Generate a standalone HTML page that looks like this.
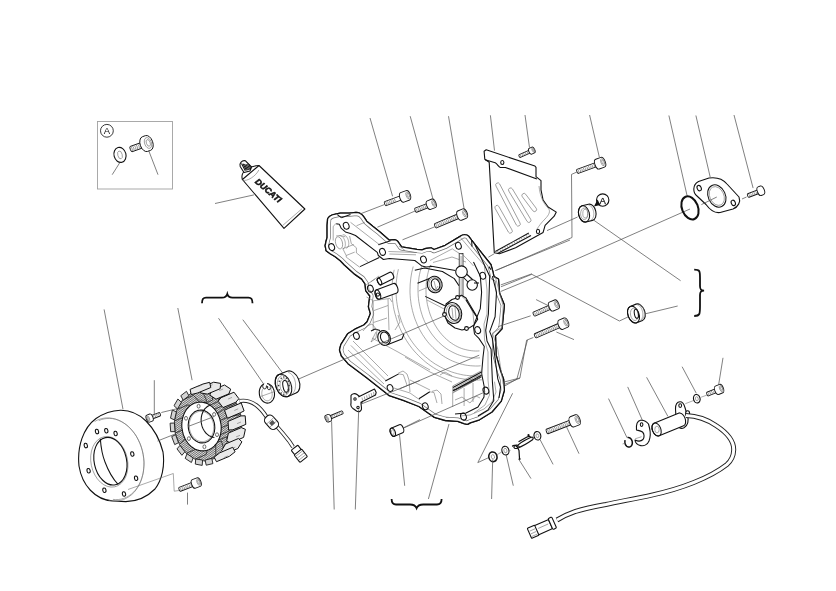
<!DOCTYPE html>
<html><head><meta charset="utf-8"><style>
html,body{margin:0;padding:0;background:#fff;}
svg{display:block;filter:grayscale(1);}
.l{stroke:#555;stroke-width:0.75;fill:none;}
.o{stroke:#111;stroke-width:1.1;fill:#fff;stroke-linejoin:round;}
.ob{stroke:#151515;stroke-width:0.9;fill:#fff;stroke-linejoin:round;}
.on{stroke:#111;stroke-width:1.05;fill:none;stroke-linejoin:round;}
.t{stroke:#707070;stroke-width:0.6;fill:none;}
.th{stroke:#666;stroke-width:0.6;fill:none;}
.bk{stroke:#111;stroke-width:1.8;fill:none;}
.hat{stroke:#222;stroke-width:0.8;fill:url(#hp);stroke-linejoin:round;}
.shoe{stroke:#111;stroke-width:1;fill:#e9e9e9;stroke-linejoin:round;}
.shoe2{stroke:#1a1a1a;stroke-width:0.9;fill:#d4d4d4;stroke-linejoin:round;}
.tip{stroke:#222;stroke-width:0.8;fill:#e6e6e6;stroke-linejoin:round;}
.hole{stroke:#333;stroke-width:0.7;fill:#fff;}
.wire{stroke:#222;stroke-width:4.0;fill:none;}
.wirei{stroke:#fff;stroke-width:2.3;fill:none;}
.o2{stroke:#222;stroke-width:1;fill:none;}
.cab{stroke:#222;stroke-width:5.0;fill:none;}
.cabi{stroke:#fff;stroke-width:3.1;fill:none;}
.ring{stroke:#111;stroke-width:1.5;fill:none;}
.clip{stroke:#111;stroke-width:1.2;fill:none;stroke-linecap:round;stroke-linejoin:round;}
.ring2{stroke:#111;stroke-width:1.1;fill:none;}
.tx{opacity:0.99;font-family:"Liberation Sans",sans-serif;fill:#111;}
</style></head><body>
<svg width="836" height="591" viewBox="0 0 836 591">
<defs><pattern id="hp" width="1.6" height="1.6" patternUnits="userSpaceOnUse" patternTransform="rotate(35)"><rect width="1.6" height="1.6" fill="#f4f4f4"/><line x1="0" y1="0.5" x2="1.6" y2="0.5" stroke="#444" stroke-width="0.7"/></pattern></defs>
<line class="l" x1="370.0" y1="118.0" x2="392.6" y2="196.3"/>
<line class="l" x1="410.2" y1="116.2" x2="433.0" y2="199.1"/>
<line class="l" x1="448.5" y1="116.2" x2="464.1" y2="208.7"/>
<line class="l" x1="490.4" y1="115.3" x2="494.5" y2="150.6"/>
<line class="l" x1="525.0" y1="115.0" x2="529.5" y2="147.6"/>
<line class="l" x1="589.6" y1="115.0" x2="599.3" y2="157.0"/>
<line class="l" x1="668.9" y1="115.5" x2="687.1" y2="195.8"/>
<line class="l" x1="695.9" y1="115.5" x2="710.2" y2="177.1"/>
<line class="l" x1="734.0" y1="115.0" x2="753.1" y2="188.1"/>
<rect x="97.5" y="121.5" width="75" height="67.5" fill="none" stroke="#a0a0a0" stroke-width="0.9"/>
<circle cx="106.9" cy="130.8" r="6.4" fill="none" stroke="#222" stroke-width="0.9"/>
<text x="106.9" y="134.3" font-size="9.5" text-anchor="middle" class="tx">A</text>
<g transform="translate(120.0,154.9) rotate(-15)"><ellipse class="o" cx="0" cy="0" rx="6.0" ry="7.6"/><ellipse class="t" cx="0" cy="0" rx="2.2" ry="4"/></g>
<g transform="translate(148.0,143.0) rotate(-19.9)"><path class="ob" d="M-18.0,-2.8 L-3.2,-2.8 L-3.2,2.8 L-18.0,2.8 Q-18.8,2.8 -18.8,0 Q-18.8,-2.8 -18.0,-2.8 Z"/><path class="th" d="M-17.4,-2.3 Q-16.3,0 -17.4,2.3"/><path class="th" d="M-15.6,-2.3 Q-14.5,0 -15.6,2.3"/><path class="th" d="M-13.7,-2.3 Q-12.6,0 -13.7,2.3"/><path class="th" d="M-11.9,-2.3 Q-10.8,0 -11.9,2.3"/><path class="th" d="M-10.0,-2.3 Q-8.9,0 -10.0,2.3"/><path class="th" d="M-8.2,-2.3 Q-7.1,0 -8.2,2.3"/><path class="th" d="M-6.3,-2.3 Q-5.2,0 -6.3,2.3"/><path class="th" d="M-4.5,-2.3 Q-3.4,0 -4.5,2.3"/><path class="ob" d="M-3.2,-7.8 L0,-7.8 A4.8,7.8 0 0 1 0,7.8 L-3.2,7.8 A4.8,7.8 0 0 1 -3.2,-7.8 Z"/><ellipse class="t" cx="0" cy="0" rx="3.4" ry="5.6"/><ellipse class="t" cx="0.3" cy="0" rx="1.9" ry="3.5"/></g>
<line class="l" x1="119.7" y1="162.8" x2="112.2" y2="174.7"/>
<line class="l" x1="148.7" y1="150.6" x2="158.0" y2="174.7"/>
<g>
<path class="o" d="M242.4,179.5 L284,228.4 L304.9,209 L259,165.5 Z"/>
<path class="t" d="M282.6,225.5 L302,208.7"/>
<path class="on" d="M242.4,179.5 C240,172 248,166 259,165.5"/>
<path class="t" d="M242.4,180 C247,182 256,176 258.8,170"/>
<path class="o" d="M244,172.5 L240.2,166.5 C239,163 242,160 245.5,160.8 L251.5,167 L250,171 Z"/>
<line class="on" x1="241.5" y1="163.5" x2="245.3" y2="170.8"/>
<line class="on" x1="243.0" y1="163.7" x2="246.4" y2="170.5"/>
<line class="on" x1="244.5" y1="163.9" x2="247.5" y2="170.2"/>
<line class="on" x1="246.0" y1="164.1" x2="248.6" y2="169.9"/>
<line class="on" x1="247.5" y1="164.3" x2="249.7" y2="169.6"/>
<line class="on" x1="249.0" y1="164.5" x2="250.8" y2="169.3"/>
<text class="tx" font-size="8.4" font-weight="bold" font-style="italic" stroke="#111" stroke-width="0.55" transform="translate(254.6,182.4) rotate(41)" letter-spacing="0.1">DUCATI</text>
</g>
<line class="l" x1="215.0" y1="203.5" x2="253.9" y2="194.9"/>
<path d="M327.6,218.7 C329,216 332,214.6 335.2,214.1 L340.3,213.1 L349.4,213.1 L356,212.3 C359,212.3 362,214 363.7,216.7 L366.7,221.2 L372.8,226.3 L380,231.9 L389.4,240.2 L394.5,239.7 C396,240 397,240.5 397.6,241.2 L401.6,246.8 L404.7,247.3 L416.9,249.4 L421.9,249.9 L426,248.4 L431.1,247.8 L434,249.5 L445.2,245.3 L460.5,236.1 C462,235 463.5,234.6 464.5,234.6 C466.5,234.6 467.8,235.2 468.6,236.1 L471.6,240.2 L474.7,244.2 L490.9,264.5 L492.9,271.7 L494,276.7 L498.5,279 L499.6,293.2 L504.4,305 L502,328.8 L495.5,335.9 L496.1,354.9 L500.8,371.5 L503.6,379.3 L504.4,390.2 L501.3,401.1 L492,412 L479.5,419.8 L470.2,422.9 C468.5,424 467.5,424.4 467.1,424.4 L464,423.7 L457.8,421.3 L445.3,420.5 L434.4,417.4 L426.7,412 L418.9,406.5 L403.3,400.3 L389.3,395.7 L384.7,392 L367,378 L348,363.7 L341.4,356 L339.5,350 L340.8,344.7 L347.6,333.8 L354.9,329.2 L363.8,325 L367.1,321.7 L370.4,313.6 L368.4,306.8 L369.8,296 L365.7,290.6 L365,283.8 L361.7,279.1 L354.9,274.4 L344.4,265 L340.3,260.8 L335.2,256.8 L330.2,253.7 L326.1,250.7 L325.1,245.6 L326.1,241 L327.1,237.5 L327.1,225.3 Z" fill="#fff" stroke="#111" stroke-width="1.3" stroke-linejoin="round"/>
<clipPath id="cvclip"><path d="M327.6,218.7 C329,216 332,214.6 335.2,214.1 L340.3,213.1 L349.4,213.1 L356,212.3 C359,212.3 362,214 363.7,216.7 L366.7,221.2 L372.8,226.3 L380,231.9 L389.4,240.2 L394.5,239.7 C396,240 397,240.5 397.6,241.2 L401.6,246.8 L404.7,247.3 L416.9,249.4 L421.9,249.9 L426,248.4 L431.1,247.8 L434,249.5 L445.2,245.3 L460.5,236.1 C462,235 463.5,234.6 464.5,234.6 C466.5,234.6 467.8,235.2 468.6,236.1 L471.6,240.2 L474.7,244.2 L490.9,264.5 L492.9,271.7 L494,276.7 L498.5,279 L499.6,293.2 L504.4,305 L502,328.8 L495.5,335.9 L496.1,354.9 L500.8,371.5 L503.6,379.3 L504.4,390.2 L501.3,401.1 L492,412 L479.5,419.8 L470.2,422.9 C468.5,424 467.5,424.4 467.1,424.4 L464,423.7 L457.8,421.3 L445.3,420.5 L434.4,417.4 L426.7,412 L418.9,406.5 L403.3,400.3 L389.3,395.7 L384.7,392 L367,378 L348,363.7 L341.4,356 L339.5,350 L340.8,344.7 L347.6,333.8 L354.9,329.2 L363.8,325 L367.1,321.7 L370.4,313.6 L368.4,306.8 L369.8,296 L365.7,290.6 L365,283.8 L361.7,279.1 L354.9,274.4 L344.4,265 L340.3,260.8 L335.2,256.8 L330.2,253.7 L326.1,250.7 L325.1,245.6 L326.1,241 L327.1,237.5 L327.1,225.3 Z"/></clipPath>
<g clip-path="url(#cvclip)"><path d="M327.6,218.7 C329,216 332,214.6 335.2,214.1 L340.3,213.1 L349.4,213.1 L356,212.3 C359,212.3 362,214 363.7,216.7 L366.7,221.2 L372.8,226.3 L380,231.9 L389.4,240.2 L394.5,239.7 C396,240 397,240.5 397.6,241.2 L401.6,246.8 L404.7,247.3 L416.9,249.4 L421.9,249.9 L426,248.4 L431.1,247.8 L434,249.5 L445.2,245.3 L460.5,236.1 C462,235 463.5,234.6 464.5,234.6 C466.5,234.6 467.8,235.2 468.6,236.1 L471.6,240.2 L474.7,244.2 L490.9,264.5 L492.9,271.7 L494,276.7 L498.5,279 L499.6,293.2 L504.4,305 L502,328.8 L495.5,335.9 L496.1,354.9 L500.8,371.5 L503.6,379.3 L504.4,390.2 L501.3,401.1 L492,412 L479.5,419.8 L470.2,422.9 C468.5,424 467.5,424.4 467.1,424.4 L464,423.7 L457.8,421.3 L445.3,420.5 L434.4,417.4 L426.7,412 L418.9,406.5 L403.3,400.3 L389.3,395.7 L384.7,392 L367,378 L348,363.7 L341.4,356 L339.5,350 L340.8,344.7 L347.6,333.8 L354.9,329.2 L363.8,325 L367.1,321.7 L370.4,313.6 L368.4,306.8 L369.8,296 L365.7,290.6 L365,283.8 L361.7,279.1 L354.9,274.4 L344.4,265 L340.3,260.8 L335.2,256.8 L330.2,253.7 L326.1,250.7 L325.1,245.6 L326.1,241 L327.1,237.5 L327.1,225.3 Z" fill="none" stroke="#707070" stroke-width="7.4" stroke-linejoin="round"/><path d="M327.6,218.7 C329,216 332,214.6 335.2,214.1 L340.3,213.1 L349.4,213.1 L356,212.3 C359,212.3 362,214 363.7,216.7 L366.7,221.2 L372.8,226.3 L380,231.9 L389.4,240.2 L394.5,239.7 C396,240 397,240.5 397.6,241.2 L401.6,246.8 L404.7,247.3 L416.9,249.4 L421.9,249.9 L426,248.4 L431.1,247.8 L434,249.5 L445.2,245.3 L460.5,236.1 C462,235 463.5,234.6 464.5,234.6 C466.5,234.6 467.8,235.2 468.6,236.1 L471.6,240.2 L474.7,244.2 L490.9,264.5 L492.9,271.7 L494,276.7 L498.5,279 L499.6,293.2 L504.4,305 L502,328.8 L495.5,335.9 L496.1,354.9 L500.8,371.5 L503.6,379.3 L504.4,390.2 L501.3,401.1 L492,412 L479.5,419.8 L470.2,422.9 C468.5,424 467.5,424.4 467.1,424.4 L464,423.7 L457.8,421.3 L445.3,420.5 L434.4,417.4 L426.7,412 L418.9,406.5 L403.3,400.3 L389.3,395.7 L384.7,392 L367,378 L348,363.7 L341.4,356 L339.5,350 L340.8,344.7 L347.6,333.8 L354.9,329.2 L363.8,325 L367.1,321.7 L370.4,313.6 L368.4,306.8 L369.8,296 L365.7,290.6 L365,283.8 L361.7,279.1 L354.9,274.4 L344.4,265 L340.3,260.8 L335.2,256.8 L330.2,253.7 L326.1,250.7 L325.1,245.6 L326.1,241 L327.1,237.5 L327.1,225.3 Z" fill="none" stroke="#fff" stroke-width="6.0" stroke-linejoin="round"/></g>
<path d="M327.6,218.7 C329,216 332,214.6 335.2,214.1 L340.3,213.1 L349.4,213.1 L356,212.3 C359,212.3 362,214 363.7,216.7 L366.7,221.2 L372.8,226.3 L380,231.9 L389.4,240.2 L394.5,239.7 C396,240 397,240.5 397.6,241.2 L401.6,246.8 L404.7,247.3 L416.9,249.4 L421.9,249.9 L426,248.4 L431.1,247.8 L434,249.5 L445.2,245.3 L460.5,236.1 C462,235 463.5,234.6 464.5,234.6 C466.5,234.6 467.8,235.2 468.6,236.1 L471.6,240.2 L474.7,244.2 L490.9,264.5 L492.9,271.7 L494,276.7 L498.5,279 L499.6,293.2 L504.4,305 L502,328.8 L495.5,335.9 L496.1,354.9 L500.8,371.5 L503.6,379.3 L504.4,390.2 L501.3,401.1 L492,412 L479.5,419.8 L470.2,422.9 C468.5,424 467.5,424.4 467.1,424.4 L464,423.7 L457.8,421.3 L445.3,420.5 L434.4,417.4 L426.7,412 L418.9,406.5 L403.3,400.3 L389.3,395.7 L384.7,392 L367,378 L348,363.7 L341.4,356 L339.5,350 L340.8,344.7 L347.6,333.8 L354.9,329.2 L363.8,325 L367.1,321.7 L370.4,313.6 L368.4,306.8 L369.8,296 L365.7,290.6 L365,283.8 L361.7,279.1 L354.9,274.4 L344.4,265 L340.3,260.8 L335.2,256.8 L330.2,253.7 L326.1,250.7 L325.1,245.6 L326.1,241 L327.1,237.5 L327.1,225.3 Z" fill="none" stroke="#111" stroke-width="1.3" stroke-linejoin="round"/>
<polyline class="t" points="481.9,379.8 478.7,380.0 475.6,380.0 472.5,379.9 469.3,379.7 466.2,379.4 463.1,378.9 460.0,378.4 456.9,377.7 453.9,376.8 450.9,375.9 447.9,374.8 445.0,373.6 442.1,372.3 439.2,370.9 436.4,369.4 433.7,367.8 431.0,366.0 428.4,364.2 425.8,362.2 423.4,360.1 421.0,358.0 418.6,355.7 416.4,353.4 414.2,351.0 412.1,348.5 410.1,345.9 408.2,343.2 406.4,340.4 404.7,337.6 403.1,334.7 401.6,331.8 400.2,328.8 398.9,325.7 397.7,322.6 396.6,319.4 395.7,316.3 394.8,313.0 394.0,309.8 393.4,306.5 392.9,303.1 392.5,299.8 392.2,296.5 392.1,293.1 392.0,289.7 392.1,286.4 392.3,283.0 392.6,279.7 393.0,276.4 393.5,273.0 394.2,269.8"/>
<polyline class="t" points="481.6,375.8 478.6,376.0 475.6,376.0 472.5,375.9 469.5,375.7 466.5,375.4 463.5,375.0 460.6,374.4 457.6,373.7 454.7,372.9 451.8,372.0 449.0,370.9 446.1,369.8 443.4,368.5 440.6,367.1 438.0,365.6 435.3,364.1 432.8,362.4 430.3,360.6 427.8,358.6 425.4,356.6 423.1,354.5 420.9,352.4 418.8,350.1 416.7,347.7 414.7,345.3 412.8,342.8 411.0,340.2 409.3,337.5 407.7,334.8 406.2,332.0 404.7,329.1 403.4,326.2 402.2,323.2 401.1,320.2 400.1,317.1 399.2,314.1 398.4,310.9 397.7,307.8 397.2,304.6 396.7,301.4 396.4,298.2 396.1,294.9 396.0,291.7 396.0,288.4 396.1,285.2 396.3,282.0 396.7,278.7 397.1,275.5 397.7,272.4 398.4,269.2"/>
<polyline class="t" points="480.6,365.8 478.0,366.0 475.4,366.0 472.9,365.9 470.3,365.7 467.7,365.4 465.2,365.0 462.6,364.4 460.1,363.8 457.6,363.0 455.2,362.1 452.7,361.1 450.3,360.0 448.0,358.8 445.7,357.5 443.4,356.1 441.2,354.6 439.0,352.9 436.9,351.2 434.9,349.4 432.9,347.5 431.0,345.5 429.1,343.5 427.3,341.3 425.6,339.1 424.0,336.8 422.4,334.4 421.0,332.0 419.6,329.5 418.3,326.9 417.1,324.3 416.0,321.6 414.9,318.9 414.0,316.1 413.2,313.3 412.4,310.4 411.8,307.6 411.2,304.7 410.8,301.7 410.4,298.8 410.2,295.8 410.0,292.9 410.0,289.9 410.1,286.9 410.2,284.0 410.5,281.0 410.8,278.1 411.3,275.1 411.8,272.2 412.5,269.4 413.2,266.5"/>
<polyline class="t" points="480.0,357.8 477.7,358.0 475.4,358.0 473.1,357.9 470.8,357.7 468.5,357.4 466.2,357.0 464.0,356.5 461.7,355.9 459.5,355.2 457.3,354.4 455.1,353.4 453.0,352.4 450.9,351.3 448.8,350.1 446.8,348.8 444.9,347.4 442.9,345.9 441.1,344.3 439.2,342.6 437.5,340.9 435.8,339.0 434.2,337.1 432.6,335.1 431.1,333.1 429.7,330.9 428.3,328.7 427.1,326.5 425.9,324.2 424.7,321.8 423.7,319.4 422.7,316.9 421.9,314.4 421.1,311.9 420.4,309.3 419.8,306.7 419.3,304.0 418.8,301.4 418.5,298.7 418.2,296.0 418.1,293.3 418.0,290.6 418.0,287.9 418.1,285.2 418.4,282.5 418.7,279.8 419.0,277.2 419.5,274.5 420.1,271.9 420.8,269.3 421.5,266.7"/>
<polyline class="t" points="479.5,350.9 477.4,351.0 475.4,351.0 473.3,350.9 471.3,350.7 469.2,350.4 467.2,350.0 465.2,349.5 463.2,349.0 461.2,348.3 459.2,347.5 457.3,346.6 455.4,345.6 453.5,344.5 451.7,343.3 449.9,342.1 448.2,340.7 446.5,339.3 444.9,337.8 443.3,336.1 441.8,334.5 440.3,332.7 438.9,330.9 437.5,329.0 436.3,327.0 435.0,325.0 433.9,322.9 432.8,320.8 431.8,318.6 430.9,316.3 430.0,314.0 429.3,311.7 428.6,309.3 428.0,306.9 427.4,304.5 427.0,302.1 426.6,299.6 426.3,297.1 426.1,294.6 426.0,292.1 426.0,289.6 426.1,287.1 426.2,284.6 426.4,282.1 426.7,279.6 427.1,277.1 427.6,274.7 428.2,272.2 428.8,269.9 429.5,267.5 430.3,265.2"/>
<polyline class="on" points="414.8,270.2 424.6,267.9 442.4,271.5 454.3,278.6 459.0,285.7"/>
<polyline class="on" points="336.2,223.8 339.3,224.3 341.3,228.4 345.4,231.9 350.5,233.4 355.5,235.5 377.3,252.4 378.3,255.5 383.4,259.5 389.4,258.5 414.8,260.5 418.9,263.6 421.9,266.1 426.0,267.1 432.0,266.5"/>
<line class="on" x1="360.0" y1="266.6" x2="379.3" y2="257.5"/>
<line class="on" x1="378.3" y1="244.8" x2="390.5" y2="240.7"/>
<line class="on" x1="337.3" y1="214.6" x2="341.3" y2="217.7"/>
<line class="on" x1="341.3" y1="217.7" x2="350.5" y2="214.6"/>
<polyline class="t" points="350.5,222.3 380.0,245.1"/>
<polyline class="t" points="356.5,225.8 364.7,222.3"/>
<polyline class="t" points="388.4,251.5 416.9,252.5"/>
<polyline class="t" points="389.4,254.0 416.0,254.8"/>
<polyline class="t" points="399.0,246.0 405.0,250.5"/>
<polyline class="t" points="333.2,226.3 333.2,240.5"/>
<polyline class="t" points="333.2,226.3 336.0,223.5 339.5,225.0"/>
<ellipse class="t" cx="339" cy="242.8" rx="3.4" ry="6.2" transform="rotate(-15 339 242.8)"/>
<polyline class="t" points="339.5,235.9 339.8,235.8 340.1,235.8 340.4,235.8 340.7,235.8 341.0,235.9 341.3,236.0 341.6,236.1 342.0,236.3 342.3,236.6 342.6,236.9 342.9,237.2 343.2,237.5 343.5,237.9 343.7,238.3 344.0,238.8 344.2,239.2 344.4,239.7 344.6,240.2 344.8,240.7 345.0,241.3 345.1,241.8 345.2,242.3 345.3,242.9 345.3,243.4 345.4,243.9 345.4,244.4 345.3,244.9 345.3,245.4 345.2,245.8 345.1,246.3 345.0,246.7 344.8,247.0 344.7,247.4 344.5,247.7 344.2,247.9 344.0,248.2 343.7,248.3 343.5,248.5 343.2,248.6 342.9,248.6"/>
<polyline class="t" points="342.7,234.7 343.0,234.7 343.3,234.7 343.6,234.7 344.0,234.7 344.3,234.9 344.6,235.0 345.0,235.2 345.3,235.4 345.6,235.7 346.0,236.0 346.3,236.3 346.6,236.7 346.8,237.1 347.1,237.5 347.4,238.0 347.6,238.4 347.8,238.9 348.0,239.4 348.2,239.9 348.4,240.5 348.5,241.0 348.6,241.5 348.7,242.1 348.7,242.6 348.8,243.1 348.8,243.6 348.7,244.2 348.7,244.6 348.6,245.1 348.5,245.5 348.4,246.0 348.2,246.4 348.1,246.7 347.9,247.1 347.7,247.4 347.4,247.6 347.2,247.8 346.9,248.0 346.6,248.2 346.3,248.3"/>
<polyline class="t" points="336.1,236.0 340.0,235.5 345.4,236.8"/>
<polyline class="t" points="349.6,236.0 351.3,243.6 356.4,247.8 356.4,252.9"/>
<polyline class="t" points="342.8,248.7 353.8,244.5"/>
<polyline class="t" points="346.2,255.5 354.7,252.1"/>
<polyline class="t" points="342.8,248.7 346.2,255.5 346.2,257.1 359.8,267.3"/>
<polyline class="t" points="356.4,252.9 368.2,262.2"/>
<polyline class="on" points="471.6,240.2 472.0,246.5"/>
<polyline class="on" points="488.9,266.6 490.9,269.6"/>
<polyline class="on" points="430.0,266.1 455.4,270.6"/>
<polyline class="t" points="433.0,262.5 452.0,257.0 466.0,262.0"/>
<rect x="459.2" y="253.5" width="3.8" height="42" fill="#fff" stroke="#222" stroke-width="0.8"/>
<line class="t" x1="461.1" y1="256.0" x2="461.1" y2="295.0"/>
<circle class="o" cx="461.5" cy="271.7" r="5.8"/>
<polyline class="on" points="463.0,277.0 470.0,284.0"/>
<polyline class="on" points="466.5,274.0 473.0,280.0"/>
<circle class="o" cx="472.2" cy="285" r="5.2"/>
<polyline class="on" points="474.0,283.0 479.0,283.0"/>
<polyline class="on" points="417.5,283.3 429.4,278.6"/>
<polyline class="t" points="418.7,291.0 432.9,285.1"/>
<ellipse class="o" cx="434.7" cy="284.5" rx="7.4" ry="8.3" transform="rotate(-15 434.7 284.5)"/>
<ellipse class="t" cx="434.9" cy="284.5" rx="6" ry="7" transform="rotate(-15 434.9 284.5)"/>
<ellipse class="on" cx="435.5" cy="284.5" rx="4.2" ry="5.8" transform="rotate(-15 435.5 284.5)"/>
<polyline class="t" points="434.0,281.0 436.0,289.0 438.0,286.0"/>
<line class="on" x1="425.2" y1="296.4" x2="444.8" y2="305.8"/>
<polyline class="t" points="427.0,300.0 446.0,310.0"/>
<path class="o" d="M446,304 L452,299.5 L458,297.5 L461.4,295.2 L466,298 L470,305 L476,315 L477.7,319.2 L474,325 L468.5,328.4 L462,330 L455,328 L448,323 L444.8,316 Z"/>
<ellipse class="o" cx="453" cy="313" rx="8.6" ry="10.6" transform="rotate(-18 453 313)"/>
<ellipse class="t" cx="453.5" cy="313" rx="7" ry="9" transform="rotate(-18 453.5 313)"/>
<ellipse class="on" cx="454" cy="313" rx="5" ry="7.5" transform="rotate(-18 454 313)"/>
<polyline class="t" points="452.0,308.0 453.0,318.0"/>
<polyline class="t" points="455.0,307.0 456.0,319.0"/>
<polyline class="t" points="461.4,296.0 468.0,302.0 473.0,313.0 474.0,324.0"/>
<polyline class="on" points="466.0,300.0 476.0,316.0"/>
<circle class="o" cx="444.5" cy="314.5" r="1.9"/>
<circle class="o" cx="466.5" cy="328.5" r="1.9"/>
<circle class="o" cx="457.5" cy="297.5" r="1.9"/>
<polyline class="t" points="494.5,381.7 496.0,392.0 492.0,402.0 484.0,409.0 470.0,415.0 460.0,416.0"/>
<polyline class="t" points="430.0,260.5 452.3,248.8 454.4,250.3 459.4,253.4 462.5,254.4 470.0,262.0 473.5,266.0"/>
<polyline class="on" points="473.5,262.0 480.3,276.2 481.6,292.4 480.3,308.6 474.9,322.2 473.5,327.0 474.5,334.0 478.9,338.4 484.3,346.5 483.0,357.3 481.6,373.5 484.3,387.0 484.0,397.0 478.0,407.0 466.0,413.0 455.0,414.0"/>
<polyline class="t" points="460.5,237.6 484.3,265.4 487.0,290.0 487.0,314.0 484.0,324.0 484.5,340.0 488.0,352.0 488.0,380.0 489.5,395.0 485.0,405.0 474.0,413.0"/>
<polyline class="on" points="474.7,244.2 489.7,276.2 488.4,314.0 485.7,330.3 487.0,341.1 491.1,349.2 492.4,381.6 493.8,400.5 488.0,410.0 478.0,416.0"/>
<polyline class="on" points="492.4,276.2 496.5,292.4 495.1,316.8 489.7,331.6 492.4,338.4 497.8,378.9 500.5,387.0 499.0,398.0"/>
<polyline class="t" points="495.1,276.2 503.2,306.0 501.9,327.6 492.4,333.0 497.8,349.2 503.2,384.3"/>
<path class="t" d="M452.7,393.1 L452.7,386 L481.8,370.5 L481.8,376.6 Z"/>
<polyline class="on" points="453.1,390.2 456.2,389.4 481.1,377.0"/>
<line class="on" x1="453.0" y1="387.5" x2="481.5" y2="372.0"/>
<line class="t" x1="453.0" y1="389.1" x2="481.5" y2="373.6"/>
<line class="on" x1="453.0" y1="390.7" x2="481.5" y2="375.2"/>
<line class="t" x1="453.0" y1="392.3" x2="481.5" y2="376.8"/>
<polyline class="t" points="452.7,393.1 452.7,407.0"/>
<polyline class="t" points="464.1,388.0 464.1,406.0"/>
<polyline class="t" points="473.0,383.0 473.0,402.0"/>
<polyline class="t" points="455.0,400.0 462.0,397.0 470.0,403.0 476.0,396.0 480.0,398.0"/>
<g transform="translate(377.9,294.6) rotate(159.7)"><path class="o" d="M-18.4,-5.0 L0,-5.0 A2.5,5.0 0 0 1 0,5.0 L-18.4,5.0 A2.5,5.0 0 0 1 -18.4,-5.0 Z"/><ellipse class="on" cx="0" cy="0" rx="2.5" ry="5.0"/></g>
<circle class="on" cx="377.9" cy="294.6" r="1.6"/>
<g transform="translate(379.5,281.5) rotate(153.4)"><path class="o" d="M-13.4,-3.6 L0,-3.6 A1.8,3.6 0 0 1 0,3.6 L-13.4,3.6 A1.8,3.6 0 0 1 -13.4,-3.6 Z"/><ellipse class="on" cx="0" cy="0" rx="1.8" ry="3.6"/></g>
<polyline class="t" points="370.8,281.8 379.1,275.9"/>
<polyline class="t" points="366.0,285.0 375.0,279.0"/>
<polyline class="t" points="373.2,300.8 389.8,298.4 392.0,302.0"/>
<polyline class="t" points="373.2,300.8 373.2,331.0"/>
<polyline class="t" points="374.0,310.5 388.0,305.5"/>
<polyline class="t" points="373.5,322.5 387.0,318.0"/>
<polyline class="t" points="388.0,299.0 389.0,330.0"/>
<polyline class="t" points="366.5,297.0 372.0,300.0"/>
<ellipse class="o" cx="384.1" cy="338" rx="6.2" ry="7.6" transform="rotate(-20 384.1 338)"/>
<ellipse class="on" cx="384.8" cy="337.5" rx="4.2" ry="5.6" transform="rotate(-20 384.8 337.5)"/>
<polyline class="on" points="388.0,344.5 402.0,339.0 404.0,334.0"/>
<polyline class="on" points="371.0,331.0 375.0,329.0 380.0,330.5"/>
<polyline class="t" points="363.0,331.0 367.0,326.0 372.0,324.0 377.0,330.0 376.0,338.0 371.0,342.0"/>
<polyline class="t" points="371.0,342.0 376.0,332.0"/>
<polyline class="t" points="395.0,330.0 400.0,322.0 398.0,315.0"/>
<polyline class="t" points="350.8,345.4 386.0,380.6"/>
<polyline class="t" points="348.0,350.0 384.0,384.0"/>
<polyline class="t" points="353.0,341.0 388.0,376.0"/>
<polyline class="t" points="372.0,338.0 398.0,352.0 430.0,370.0"/>
<polyline class="on" points="385.3,381.0 390.0,378.5 398.7,373.9"/>
<polyline class="on" points="418.9,398.8 424.0,395.5 429.8,391.8"/>
<polyline class="t" points="398.7,373.9 403.3,374.7 407.2,385.6"/>
<polyline class="t" points="429.8,391.8 434.0,392.5 437.0,403.0"/>
<polyline class="t" points="398.2,373.2 403.0,371.0 407.0,374.0 409.0,380.0 410.0,392.0"/>
<polyline class="t" points="432.0,391.4 437.0,390.0 441.0,394.0 442.0,404.0"/>
<polyline class="t" points="394.0,388.0 410.0,393.0 420.0,400.0"/>
<polyline class="t" points="410.0,380.0 430.0,390.0"/>
<polyline class="t" points="405.0,357.0 430.0,372.0 452.0,382.0"/>
<polyline class="t" points="440.0,375.0 445.0,372.0 452.0,376.0"/>
<ellipse class="on" cx="346.2" cy="225.8" rx="2.8" ry="3.5" transform="rotate(-20 346.2 225.8)"/>
<ellipse class="on" cx="331.7" cy="247.1" rx="2.8" ry="3.5" transform="rotate(-20 331.7 247.1)"/>
<ellipse class="on" cx="382.5" cy="251.9" rx="2.8" ry="3.5" transform="rotate(-20 382.5 251.9)"/>
<ellipse class="on" cx="423.5" cy="259.5" rx="2.8" ry="3.5" transform="rotate(-20 423.5 259.5)"/>
<ellipse class="on" cx="458.4" cy="245.8" rx="2.8" ry="3.5" transform="rotate(-20 458.4 245.8)"/>
<ellipse class="on" cx="482.8" cy="275.7" rx="2.8" ry="3.5" transform="rotate(-20 482.8 275.7)"/>
<ellipse class="on" cx="477.7" cy="330.1" rx="2.8" ry="3.5" transform="rotate(-20 477.7 330.1)"/>
<ellipse class="on" cx="370.4" cy="288.6" rx="2.8" ry="3.5" transform="rotate(-20 370.4 288.6)"/>
<ellipse class="on" cx="356.4" cy="335.9" rx="2.8" ry="3.5" transform="rotate(-20 356.4 335.9)"/>
<ellipse class="on" cx="390.1" cy="388" rx="2.8" ry="3.5" transform="rotate(-20 390.1 388)"/>
<ellipse class="on" cx="425.3" cy="406.3" rx="2.8" ry="3.5" transform="rotate(-20 425.3 406.3)"/>
<ellipse class="on" cx="463.5" cy="416.6" rx="2.8" ry="3.5" transform="rotate(-20 463.5 416.6)"/>
<ellipse class="on" cx="485.9" cy="390.6" rx="2.8" ry="3.5" transform="rotate(-20 485.9 390.6)"/>
<line class="l" x1="479.2" y1="355.2" x2="400.0" y2="388.7"/>
<line class="l" x1="485.3" y1="391.8" x2="403.0" y2="428.3"/>
<line class="l" x1="503.5" y1="384.9" x2="520.0" y2="378.1"/>
<g transform="translate(407.9,195.3) rotate(-20.3)"><path class="ob" d="M-24.0,-2.2 L-6.0,-2.2 L-6.0,2.2 L-24.0,2.2 Q-24.8,2.2 -24.8,0 Q-24.8,-2.2 -24.0,-2.2 Z"/><path class="th" d="M-23.4,-1.7 Q-22.3,0 -23.4,1.7"/><path class="th" d="M-21.6,-1.7 Q-20.5,0 -21.6,1.7"/><path class="th" d="M-19.7,-1.7 Q-18.6,0 -19.7,1.7"/><path class="th" d="M-17.9,-1.7 Q-16.8,0 -17.9,1.7"/><path class="th" d="M-16.0,-1.7 Q-14.9,0 -16.0,1.7"/><path class="th" d="M-14.2,-1.7 Q-13.1,0 -14.2,1.7"/><path class="ob" d="M-6.0,-5.0 L0,-5.0 A2.5,5.0 0 0 1 0,5.0 L-6.0,5.0 A2.5,5.0 0 0 1 -6.0,-5.0 Z"/><ellipse class="t" cx="0" cy="0" rx="1.8" ry="3.6"/><ellipse class="t" cx="0.3" cy="0" rx="1.0" ry="2.2"/></g>
<g transform="translate(433.6,203.3) rotate(-21.3)"><path class="ob" d="M-19.1,-2.2 L-5.0,-2.2 L-5.0,2.2 L-19.1,2.2 Q-19.9,2.2 -19.9,0 Q-19.9,-2.2 -19.1,-2.2 Z"/><path class="th" d="M-18.5,-1.7 Q-17.4,0 -18.5,1.7"/><path class="th" d="M-16.6,-1.7 Q-15.5,0 -16.6,1.7"/><path class="th" d="M-14.8,-1.7 Q-13.7,0 -14.8,1.7"/><path class="th" d="M-12.9,-1.7 Q-11.8,0 -12.9,1.7"/><path class="th" d="M-11.1,-1.7 Q-10.0,0 -11.1,1.7"/><path class="th" d="M-9.2,-1.7 Q-8.1,0 -9.2,1.7"/><path class="th" d="M-7.4,-1.7 Q-6.3,0 -7.4,1.7"/><path class="ob" d="M-5.0,-4.6 L0,-4.6 A2.3,4.6 0 0 1 0,4.6 L-5.0,4.6 A2.3,4.6 0 0 1 -5.0,-4.6 Z"/><ellipse class="t" cx="0" cy="0" rx="1.6" ry="3.3"/><ellipse class="t" cx="0.3" cy="0" rx="0.9" ry="2.1"/></g>
<g transform="translate(464.7,213.5) rotate(-22.9)"><path class="ob" d="M-31.6,-2.3 L-5.5,-2.3 L-5.5,2.3 L-31.6,2.3 Q-32.4,2.3 -32.4,0 Q-32.4,-2.3 -31.6,-2.3 Z"/><path class="th" d="M-31.0,-1.8 Q-29.9,0 -31.0,1.8"/><path class="th" d="M-29.2,-1.8 Q-28.1,0 -29.2,1.8"/><path class="th" d="M-27.3,-1.8 Q-26.2,0 -27.3,1.8"/><path class="th" d="M-25.5,-1.8 Q-24.4,0 -25.5,1.8"/><path class="th" d="M-23.6,-1.8 Q-22.5,0 -23.6,1.8"/><path class="th" d="M-21.8,-1.8 Q-20.7,0 -21.8,1.8"/><path class="th" d="M-19.9,-1.8 Q-18.8,0 -19.9,1.8"/><path class="th" d="M-18.1,-1.8 Q-17.0,0 -18.1,1.8"/><path class="th" d="M-16.2,-1.8 Q-15.1,0 -16.2,1.8"/><path class="th" d="M-14.4,-1.8 Q-13.3,0 -14.4,1.8"/><path class="th" d="M-12.5,-1.8 Q-11.4,0 -12.5,1.8"/><path class="th" d="M-10.7,-1.8 Q-9.6,0 -10.7,1.8"/><path class="th" d="M-8.8,-1.8 Q-7.7,0 -8.8,1.8"/><path class="th" d="M-7.0,-1.8 Q-5.9,0 -7.0,1.8"/><path class="ob" d="M-5.5,-5.0 L0,-5.0 A2.5,5.0 0 0 1 0,5.0 L-5.5,5.0 A2.5,5.0 0 0 1 -5.5,-5.0 Z"/><ellipse class="t" cx="0" cy="0" rx="1.8" ry="3.6"/><ellipse class="t" cx="0.3" cy="0" rx="1.0" ry="2.2"/></g>
<line class="l" x1="384.6" y1="204.5" x2="360.0" y2="214.0"/>
<line class="l" x1="415.1" y1="211.0" x2="377.4" y2="227.2"/>
<line class="l" x1="434.8" y1="226.8" x2="402.5" y2="239.8"/>
<path class="o" d="M484.1,151.2 L486.2,149.8 L534.9,166 L536,167.4 L536,176.6 L541,180.6 L541,189.8 L543.1,200 L548.1,207 L556.3,212.1 L554.2,216.2 L545.1,225.3 L543.1,232.4 L515.6,247.7 L499.4,253.8 L494.3,252.8 L489.2,162.3 L484.8,159.3 Z"/>
<path class="on" d="M485.1,159.8 L495.2,162.8 C497.5,164 498.5,167 500.3,167.4 L505.4,167.4 L536.9,179.1"/>
<ellipse class="on" cx="502.3" cy="162.4" rx="1.6" ry="2.0"/>
<ellipse class="on" cx="538" cy="231.4" rx="1.6" ry="2.1"/>
<rect class="t" x="495.7" y="182.9" width="48.2" height="4.2" rx="2.1" transform="rotate(62.4 497.8 185.0)"/>
<rect class="t" x="508.5" y="187.9" width="39.6" height="4.2" rx="2.1" transform="rotate(58.9 510.6 190.0)"/>
<rect class="t" x="521.9" y="193.4" width="21.7" height="4.2" rx="2.1" transform="rotate(53.1 524.0 195.5)"/>
<rect class="t" x="494.9" y="205.4" width="31.2" height="4.2" rx="2.1" transform="rotate(60.7 497.0 207.5)"/>
<path class="on" d="M495.3,251.5 L528.8,233"/>
<path class="on" d="M497.5,253.5 L531,235.5"/>
<line class="th" x1="497.0" y1="250.5" x2="498.6" y2="252.7"/>
<line class="th" x1="499.4" y1="249.2" x2="501.0" y2="251.4"/>
<line class="th" x1="501.8" y1="247.9" x2="503.4" y2="250.1"/>
<line class="th" x1="504.2" y1="246.6" x2="505.8" y2="248.8"/>
<line class="th" x1="506.5" y1="245.3" x2="508.1" y2="247.5"/>
<line class="th" x1="508.9" y1="244.0" x2="510.5" y2="246.2"/>
<line class="th" x1="511.3" y1="242.7" x2="512.9" y2="244.9"/>
<line class="th" x1="513.7" y1="241.3" x2="515.3" y2="243.5"/>
<line class="th" x1="516.1" y1="240.0" x2="517.7" y2="242.2"/>
<line class="th" x1="518.5" y1="238.7" x2="520.1" y2="240.9"/>
<line class="th" x1="520.8" y1="237.4" x2="522.4" y2="239.6"/>
<line class="th" x1="523.2" y1="236.1" x2="524.8" y2="238.3"/>
<line class="th" x1="525.6" y1="234.8" x2="527.2" y2="237.0"/>
<line class="th" x1="528.0" y1="233.5" x2="529.6" y2="235.7"/>
<path class="t" d="M539,186 C540,196 543,203 548,208 C551,211 549,215 545,219 C541,223 539,226 537,229"/>
<path class="t" d="M536,176.6 L536,178"/>
<g transform="translate(533.2,150.0) rotate(-24.4)"><path class="ob" d="M-14.7,-1.5 L-3.0,-1.5 L-3.0,1.5 L-14.7,1.5 Q-15.5,1.5 -15.5,0 Q-15.5,-1.5 -14.7,-1.5 Z"/><path class="th" d="M-14.1,-1.0 Q-13.0,0 -14.1,1.0"/><path class="th" d="M-12.2,-1.0 Q-11.1,0 -12.2,1.0"/><path class="th" d="M-10.4,-1.0 Q-9.3,0 -10.4,1.0"/><path class="th" d="M-8.5,-1.0 Q-7.4,0 -8.5,1.0"/><path class="th" d="M-6.7,-1.0 Q-5.6,0 -6.7,1.0"/><path class="th" d="M-4.8,-1.0 Q-3.7,0 -4.8,1.0"/><path class="ob" d="M-3.0,-3.2 L0,-3.2 A1.6,3.2 0 0 1 0,3.2 L-3.0,3.2 A1.6,3.2 0 0 1 -3.0,-3.2 Z"/><ellipse class="t" cx="0" cy="0" rx="1.1" ry="2.3"/><ellipse class="t" cx="0.3" cy="0" rx="0.6" ry="1.4"/></g>
<g transform="translate(602.7,162.2) rotate(-20.2)"><path class="ob" d="M-26.7,-2.1 L-5.5,-2.1 L-5.5,2.1 L-26.7,2.1 Q-27.5,2.1 -27.5,0 Q-27.5,-2.1 -26.7,-2.1 Z"/><path class="th" d="M-26.1,-1.6 Q-25.0,0 -26.1,1.6"/><path class="th" d="M-24.2,-1.6 Q-23.1,0 -24.2,1.6"/><path class="th" d="M-22.4,-1.6 Q-21.3,0 -22.4,1.6"/><path class="th" d="M-20.5,-1.6 Q-19.4,0 -20.5,1.6"/><path class="th" d="M-18.7,-1.6 Q-17.6,0 -18.7,1.6"/><path class="th" d="M-16.8,-1.6 Q-15.7,0 -16.8,1.6"/><path class="th" d="M-15.0,-1.6 Q-13.9,0 -15.0,1.6"/><path class="th" d="M-13.1,-1.6 Q-12.0,0 -13.1,1.6"/><path class="th" d="M-11.3,-1.6 Q-10.2,0 -11.3,1.6"/><path class="th" d="M-9.4,-1.6 Q-8.3,0 -9.4,1.6"/><path class="th" d="M-7.6,-1.6 Q-6.5,0 -7.6,1.6"/><path class="ob" d="M-5.5,-5.2 L0,-5.2 A2.6,5.2 0 0 1 0,5.2 L-5.5,5.2 A2.6,5.2 0 0 1 -5.5,-5.2 Z"/><ellipse class="t" cx="0" cy="0" rx="1.8" ry="3.7"/><ellipse class="t" cx="0.3" cy="0" rx="1.0" ry="2.3"/></g>
<polyline class="l" points="576.9,172.0 571.5,174.4 572.0,237.5 496.3,270.4"/>
<line class="l" x1="494.3" y1="253.7" x2="488.4" y2="257.2"/>
<g transform="translate(584.0,213.9) rotate(166.2)"><path class="o" d="M-6.7,-8.3 L0,-8.3 A5.4,8.3 0 0 1 0,8.3 L-6.7,8.3 A5.4,8.3 0 0 1 -6.7,-8.3 Z"/><ellipse class="on" cx="0" cy="0" rx="5.4" ry="8.3"/></g>
<ellipse class="t" cx="584.3" cy="213.8" rx="3.7" ry="5.8"/>
<ellipse class="t" cx="585.2" cy="213.6" rx="2.4" ry="4.4"/>
<polyline class="t" points="588.3,204.9 588.7,204.9 589.0,205.0 589.4,205.2 589.8,205.4 590.1,205.6 590.5,205.8 590.8,206.1 591.1,206.4 591.4,206.8 591.7,207.2 592.0,207.6 592.3,208.0 592.5,208.4 592.8,208.9 593.0,209.4 593.1,209.9 593.3,210.4 593.4,211.0 593.6,211.5 593.6,212.1 593.7,212.6 593.8,213.2 593.8,213.7 593.8,214.3 593.7,214.8 593.7,215.4 593.6,215.9 593.5,216.4 593.3,216.9 593.2,217.3 593.0,217.8 592.8,218.2 592.5,218.6 592.3,219.0 592.0,219.3 591.8,219.6 591.5,219.9 591.2,220.1 590.8,220.3 590.5,220.5"/>
<circle cx="602.7" cy="200.1" r="6.2" fill="#fff" stroke="#111" stroke-width="1.1"/>
<text x="602.7" y="203.6" font-size="9.6" text-anchor="middle" class="tx" stroke="#111" stroke-width="0.25">A</text>
<polygon points="593.9,206.4 597.6,199.6 600.2,204.9" fill="#111"/>
<line class="l" x1="577.6" y1="217.0" x2="547.0" y2="230.6"/>
<line class="l" x1="593.2" y1="219.8" x2="680.6" y2="280.7"/>
<line class="l" x1="690.0" y1="209.0" x2="540.2" y2="275.2"/>
<line class="l" x1="540.2" y1="275.2" x2="500.9" y2="291.4"/>
<ellipse cx="690" cy="207.9" rx="8.0" ry="12.0" transform="rotate(-22 690 207.9)" fill="none" stroke="#111" stroke-width="2"/>
<path class="o" d="M698.5,181.5 C692,185 693,193 697,196 L706,204.5 C710,210 716,214 722,212 L733,209 C738,207 741,202 739,197 L727,184 C722,178 716,177 709,178 Z"/>
<ellipse class="on" cx="716.8" cy="196" rx="8.6" ry="11.6" transform="rotate(-25 716.8 196)"/>
<ellipse class="t" cx="716.8" cy="196" rx="7.0" ry="9.8" transform="rotate(-25 716.8 196)"/>
<ellipse class="on" cx="699.2" cy="188.1" rx="2" ry="2.8" transform="rotate(-25 699.2 188.1)"/>
<ellipse class="on" cx="733.3" cy="202.9" rx="2" ry="2.8" transform="rotate(-25 733.3 202.9)"/>
<line class="l" x1="701.4" y1="204.6" x2="716.8" y2="197.0"/>
<g transform="translate(762.0,190.3) rotate(-20.9)"><path class="ob" d="M-14.6,-1.9 L-2.5,-1.9 L-2.5,1.9 L-14.6,1.9 Q-15.4,1.9 -15.4,0 Q-15.4,-1.9 -14.6,-1.9 Z"/><path class="th" d="M-14.0,-1.4 Q-12.9,0 -14.0,1.4"/><path class="th" d="M-12.2,-1.4 Q-11.1,0 -12.2,1.4"/><path class="th" d="M-10.3,-1.4 Q-9.2,0 -10.3,1.4"/><path class="th" d="M-8.5,-1.4 Q-7.4,0 -8.5,1.4"/><path class="th" d="M-6.6,-1.4 Q-5.5,0 -6.6,1.4"/><path class="th" d="M-4.8,-1.4 Q-3.7,0 -4.8,1.4"/><path class="ob" d="M-2.5,-4.6 L0,-4.6 A2.3,4.6 0 0 1 0,4.6 L-2.5,4.6 A2.3,4.6 0 0 1 -2.5,-4.6 Z"/></g>
<line class="l" x1="742.0" y1="199.0" x2="746.5" y2="197.0"/>
<path class="bk" d="M694.2,269.7 C700,269.7 700,271 700,278 L700,286 C700,289.5 701,290.6 704.1,290.6 C701,290.6 700,291.7 700,295 L700,306 C700,314 700,316 694.2,316"/>
<polyline class="l" points="500.9,286.8 531.8,274.3 619.4,321.0 632.6,314.8"/>
<g transform="translate(633.5,314.6) rotate(158.4)"><path class="o" d="M-6.2,-8.8 L0,-8.8 A5.5,8.8 0 0 1 0,8.8 L-6.2,8.8 A5.5,8.8 0 0 1 -6.2,-8.8 Z"/><ellipse class="on" cx="0" cy="0" rx="5.5" ry="8.8"/></g>
<ellipse class="t" cx="634.3" cy="314.4" rx="3.8" ry="6.2" transform="rotate(-10 634.3 314.4)"/>
<ellipse class="on" cx="636.4" cy="313.8" rx="2.0" ry="4.6" transform="rotate(-10 636.4 313.8)"/>
<polyline class="t" points="638.8,304.4 639.1,304.4 639.5,304.5 639.9,304.7 640.2,304.8 640.6,305.0 640.9,305.3 641.2,305.6 641.6,305.9 641.9,306.2 642.2,306.6 642.5,307.0 642.7,307.4 643.0,307.8 643.2,308.3 643.5,308.8 643.7,309.3 643.8,309.8 644.0,310.3 644.1,310.9 644.2,311.4 644.3,312.0 644.4,312.5 644.4,313.1 644.4,313.6 644.4,314.2 644.4,314.7 644.3,315.2 644.2,315.7 644.1,316.2 644.0,316.7 643.8,317.1 643.6,317.6 643.4,318.0 643.2,318.3 643.0,318.7 642.7,319.0 642.4,319.3 642.1,319.5 641.8,319.7 641.5,319.9"/>
<polyline class="t" points="637.4,304.9 637.8,305.0 638.1,305.1 638.5,305.3 638.8,305.5 639.1,305.7 639.5,306.0 639.8,306.3 640.1,306.6 640.4,306.9 640.7,307.3 641.0,307.7 641.2,308.1 641.5,308.6 641.7,309.0 641.9,309.5 642.1,310.0 642.2,310.5 642.4,311.0 642.5,311.6 642.6,312.1 642.7,312.6 642.8,313.2 642.8,313.7 642.8,314.2 642.8,314.8 642.8,315.3 642.7,315.8 642.7,316.3 642.6,316.8 642.4,317.3 642.3,317.7 642.1,318.1 642.0,318.6 641.8,318.9 641.5,319.3 641.3,319.6 641.1,319.9 640.8,320.2 640.5,320.4 640.2,320.7"/>
<line class="l" x1="645.8" y1="313.7" x2="677.7" y2="306.0"/>
<g transform="translate(556.4,304.4) rotate(-23.5)"><path class="ob" d="M-24.3,-2.2 L-5.5,-2.2 L-5.5,2.2 L-24.3,2.2 Q-25.1,2.2 -25.1,0 Q-25.1,-2.2 -24.3,-2.2 Z"/><path class="th" d="M-23.7,-1.7 Q-22.6,0 -23.7,1.7"/><path class="th" d="M-21.8,-1.7 Q-20.7,0 -21.8,1.7"/><path class="th" d="M-20.0,-1.7 Q-18.9,0 -20.0,1.7"/><path class="th" d="M-18.1,-1.7 Q-17.0,0 -18.1,1.7"/><path class="th" d="M-16.3,-1.7 Q-15.2,0 -16.3,1.7"/><path class="th" d="M-14.4,-1.7 Q-13.3,0 -14.4,1.7"/><path class="th" d="M-12.6,-1.7 Q-11.5,0 -12.6,1.7"/><path class="th" d="M-10.7,-1.7 Q-9.6,0 -10.7,1.7"/><path class="th" d="M-8.9,-1.7 Q-7.8,0 -8.9,1.7"/><path class="th" d="M-7.0,-1.7 Q-5.9,0 -7.0,1.7"/><path class="ob" d="M-5.5,-4.8 L0,-4.8 A2.4,4.8 0 0 1 0,4.8 L-5.5,4.8 A2.4,4.8 0 0 1 -5.5,-4.8 Z"/><ellipse class="t" cx="0" cy="0" rx="1.7" ry="3.5"/><ellipse class="t" cx="0.3" cy="0" rx="1.0" ry="2.2"/></g>
<line class="l" x1="536.1" y1="299.6" x2="549.6" y2="306.3"/>
<g transform="translate(565.9,322.6) rotate(-23.4)"><path class="ob" d="M-33.2,-2.2 L-5.5,-2.2 L-5.5,2.2 L-33.2,2.2 Q-34.0,2.2 -34.0,0 Q-34.0,-2.2 -33.2,-2.2 Z"/><path class="th" d="M-32.6,-1.7 Q-31.5,0 -32.6,1.7"/><path class="th" d="M-30.7,-1.7 Q-29.6,0 -30.7,1.7"/><path class="th" d="M-28.9,-1.7 Q-27.8,0 -28.9,1.7"/><path class="th" d="M-27.0,-1.7 Q-25.9,0 -27.0,1.7"/><path class="th" d="M-25.2,-1.7 Q-24.1,0 -25.2,1.7"/><path class="th" d="M-23.3,-1.7 Q-22.2,0 -23.3,1.7"/><path class="th" d="M-21.5,-1.7 Q-20.4,0 -21.5,1.7"/><path class="th" d="M-19.6,-1.7 Q-18.5,0 -19.6,1.7"/><path class="th" d="M-17.8,-1.7 Q-16.7,0 -17.8,1.7"/><path class="th" d="M-15.9,-1.7 Q-14.8,0 -15.9,1.7"/><path class="th" d="M-14.1,-1.7 Q-13.0,0 -14.1,1.7"/><path class="th" d="M-12.2,-1.7 Q-11.1,0 -12.2,1.7"/><path class="th" d="M-10.4,-1.7 Q-9.3,0 -10.4,1.7"/><path class="th" d="M-8.5,-1.7 Q-7.4,0 -8.5,1.7"/><path class="th" d="M-6.7,-1.7 Q-5.6,0 -6.7,1.7"/><path class="ob" d="M-5.5,-5.0 L0,-5.0 A2.5,5.0 0 0 1 0,5.0 L-5.5,5.0 A2.5,5.0 0 0 1 -5.5,-5.0 Z"/><ellipse class="t" cx="0" cy="0" rx="1.8" ry="3.6"/><ellipse class="t" cx="0.3" cy="0" rx="1.0" ry="2.2"/></g>
<line class="l" x1="556.4" y1="332.0" x2="574.0" y2="339.6"/>
<line class="l" x1="530.7" y1="315.8" x2="498.2" y2="326.6"/>
<polyline class="l" points="533.4,337.5 526.6,340.2 519.9,378.0 503.6,382.1"/>
<line class="l" x1="494.9" y1="270.7" x2="570.0" y2="240.0"/>
<line class="l" x1="500.8" y1="284.9" x2="532.0" y2="273.8"/>
<line class="l" x1="104.1" y1="309.4" x2="123.0" y2="409.3"/>
<line class="l" x1="177.8" y1="308.0" x2="192.1" y2="380.2"/>
<line class="l" x1="154.3" y1="380.2" x2="154.3" y2="414.0"/>
<path class="bk" d="M202,303.2 C202,299 203,297.7 206,297.7 L222,297.7 C225.5,297.7 226.5,296.5 227.3,294 C228,296.5 229,297.7 232.5,297.7 L248.5,297.7 C251.5,297.7 252.5,299 252.5,303.2"/>
<line class="l" x1="218.5" y1="318.2" x2="263.7" y2="384.1"/>
<line class="l" x1="242.8" y1="319.7" x2="283.8" y2="374.6"/>
<path class="o" d="M96,418.5 C104,413 112,410.5 120.3,410.2 C130,410 139,414 146,421 C154,429 160,440 163,452 C165,466 162,480 155,489 C146,498 136,501.5 125.8,501.6 L113,501 C95,500 82,485 79,466 C77,447 83,428 96,418.5 Z"/>
<polyline class="t" points="94.6,421.6 97.3,420.1 100.2,419.0 103.1,418.3 106.1,417.9 109.2,417.9 112.2,418.3 115.3,419.0 118.3,420.1 121.3,421.5 124.2,423.3 126.9,425.3 129.6,427.7 132.0,430.4 134.3,433.3 136.4,436.4 138.2,439.8 139.8,443.3 141.2,447.0 142.3,450.7 143.1,454.6 143.7,458.5 144.0,462.4 143.9,466.3 143.6,470.1 143.0,473.8 142.1,477.4 141.0,480.8 139.6,484.1 137.9,487.1 136.0,489.9 133.9,492.5 131.6,494.7 129.1,496.6 126.4,498.2 123.7,499.5 120.8,500.4 117.8,500.9 114.7,501.1 111.7,500.9 108.6,500.4"/>
<polyline class="t" points="98.8,420.6 101.4,419.6 104.1,418.9 106.9,418.5 109.6,418.4 112.5,418.6 115.3,419.2 118.1,420.1 120.8,421.3 123.5,422.8 126.1,424.6 128.6,426.7 130.9,429.0 133.1,431.6 135.2,434.3 137.0,437.3 138.7,440.5 140.2,443.8 141.4,447.2 142.4,450.7 143.2,454.3 143.7,457.9 144.0,461.6 144.0,465.2 143.7,468.7 143.3,472.2 142.5,475.6 141.6,478.8 140.4,481.9 138.9,484.8 137.3,487.5 135.5,490.0 133.5,492.2 131.3,494.2 128.9,495.8 126.5,497.2 123.9,498.3 121.2,499.1 118.5,499.5 115.7,499.6 112.9,499.4"/>
<ellipse class="t" cx="109.3" cy="461.8" rx="18.3" ry="25.6" transform="rotate(-12 109.3 461.8)"/>
<ellipse class="o" cx="110.4" cy="461.2" rx="16.2" ry="24.1" transform="rotate(-12 110.4 461.2)"/>
<path class="on" d="M100.3,438.8 C101,448 103,457 105,462 C108,470 112,478 118.1,484.4"/>
<ellipse class="on" cx="97" cy="431.6" rx="1.6" ry="2.3" transform="rotate(-12 97 431.6)"/>
<ellipse class="on" cx="106.3" cy="430.7" rx="1.6" ry="2.3" transform="rotate(-12 106.3 430.7)"/>
<ellipse class="on" cx="115.6" cy="433.5" rx="1.6" ry="2.3" transform="rotate(-12 115.6 433.5)"/>
<ellipse class="on" cx="85.8" cy="445.6" rx="1.6" ry="2.3" transform="rotate(-12 85.8 445.6)"/>
<ellipse class="on" cx="132.3" cy="454" rx="1.6" ry="2.3" transform="rotate(-12 132.3 454)"/>
<ellipse class="on" cx="88.6" cy="470.7" rx="1.6" ry="2.3" transform="rotate(-12 88.6 470.7)"/>
<ellipse class="on" cx="136.1" cy="478.2" rx="1.6" ry="2.3" transform="rotate(-12 136.1 478.2)"/>
<ellipse class="on" cx="104.4" cy="490.3" rx="1.6" ry="2.3" transform="rotate(-12 104.4 490.3)"/>
<ellipse class="on" cx="124" cy="494" rx="1.6" ry="2.3" transform="rotate(-12 124 494)"/>
<g transform="translate(148.2,418.6) rotate(159.2)"><path class="ob" d="M-12.1,-1.8 L-3.0,-1.8 L-3.0,1.8 L-12.1,1.8 Q-12.9,1.8 -12.9,0 Q-12.9,-1.8 -12.1,-1.8 Z"/><path class="th" d="M-11.5,-1.3 Q-10.4,0 -11.5,1.3"/><path class="th" d="M-9.7,-1.3 Q-8.6,0 -9.7,1.3"/><path class="th" d="M-7.8,-1.3 Q-6.7,0 -7.8,1.3"/><path class="th" d="M-6.0,-1.3 Q-4.9,0 -6.0,1.3"/><path class="th" d="M-4.1,-1.3 Q-3.0,0 -4.1,1.3"/><path class="ob" d="M-3.0,-3.8 L0,-3.8 A1.9,3.8 0 0 1 0,3.8 L-3.0,3.8 A1.9,3.8 0 0 1 -3.0,-3.8 Z"/><ellipse class="t" cx="0" cy="0" rx="1.3" ry="2.7"/><ellipse class="t" cx="0.3" cy="0" rx="0.8" ry="1.7"/></g>
<polyline class="t" points="128.0,489.5 173.3,473.5 174.2,491.2 179.0,490.5"/>
<line class="l" x1="161.3" y1="412.5" x2="210.0" y2="400.8"/>
<line class="l" x1="157.5" y1="441.0" x2="222.0" y2="415.5"/>
<g transform="translate(198.6,482.1) rotate(-21.0)"><path class="ob" d="M-20.1,-2.1 L-5.0,-2.1 L-5.0,2.1 L-20.1,2.1 Q-20.9,2.1 -20.9,0 Q-20.9,-2.1 -20.1,-2.1 Z"/><path class="th" d="M-19.5,-1.6 Q-18.4,0 -19.5,1.6"/><path class="th" d="M-17.6,-1.6 Q-16.5,0 -17.6,1.6"/><path class="th" d="M-15.8,-1.6 Q-14.7,0 -15.8,1.6"/><path class="th" d="M-13.9,-1.6 Q-12.8,0 -13.9,1.6"/><path class="th" d="M-12.1,-1.6 Q-11.0,0 -12.1,1.6"/><path class="th" d="M-10.2,-1.6 Q-9.1,0 -10.2,1.6"/><path class="th" d="M-8.4,-1.6 Q-7.3,0 -8.4,1.6"/><path class="th" d="M-6.5,-1.6 Q-5.4,0 -6.5,1.6"/><path class="ob" d="M-5.0,-4.6 L0,-4.6 A2.3,4.6 0 0 1 0,4.6 L-5.0,4.6 A2.3,4.6 0 0 1 -5.0,-4.6 Z"/><ellipse class="t" cx="0" cy="0" rx="1.6" ry="3.3"/><ellipse class="t" cx="0.3" cy="0" rx="0.9" ry="2.1"/></g>
<line class="l" x1="187.5" y1="492.6" x2="187.5" y2="504.6"/>
<polygon class="hat" points="211.8,408.8 218.6,398.9 229.7,394.2 236.5,403.2 228.0,411.0 217.0,415.7"/>
<polygon class="hat" points="216.2,414.2 225.5,408.0 236.6,403.3 240.7,414.4 229.6,419.1 219.3,422.7"/>
<polygon class="hat" points="206.2,405.5 209.8,393.1 220.8,388.4 229.6,394.1 224.0,405.2 212.9,409.9"/>
<polygon class="hat" points="218.9,421.0 230.0,416.3 240.7,414.6 241.5,426.6 230.5,431.2 219.6,430.2"/>
<polygon class="hat" points="200.0,391.2 211.1,386.5 220.7,388.3 218.6,401.4 207.6,406.1 200.2,404.7"/>
<polygon class="hat" points="217.8,437.1 219.7,428.4 230.7,423.8 241.5,426.7 239.0,438.1 228.0,442.7"/>
<polygon class="hat" points="190.6,393.6 201.6,388.9 211.0,386.5 212.7,400.0 201.6,404.7 194.5,406.5"/>
<polygon class="hat" points="214.1,442.7 218.4,435.6 229.4,430.9 239.0,438.2 233.4,447.5 222.4,452.2"/>
<polygon class="hat" points="182.6,399.9 190.5,393.7 201.5,389.0 206.8,401.2 200.7,406.0 189.7,410.6"/>
<polygon class="hat" points="209.1,446.4 215.1,441.6 226.2,436.9 233.3,447.7 225.4,453.9 214.4,458.6"/>
<polygon class="hat" points="176.9,409.3 182.5,400.0 193.5,395.3 201.8,404.8 197.5,412.0 186.5,416.6"/>
<polygon class="hat" points="203.2,447.5 214.2,442.8 221.4,441.0 225.3,453.9 214.2,458.6 204.9,461.0"/>
<polygon class="hat" points="174.4,420.8 176.9,409.5 187.9,404.8 198.1,410.4 196.2,419.1 185.1,423.8"/>
<polygon class="hat" points="195.2,459.2 197.3,446.1 208.3,441.4 215.7,442.8 215.8,456.3 204.8,461.0"/>
<polygon class="hat" points="174.4,421.0 185.4,416.3 196.3,417.4 197.0,426.5 185.9,431.2 175.2,432.9"/>
<polygon class="hat" points="186.3,453.4 191.9,442.3 203.0,437.6 209.7,442.0 206.1,454.5 195.0,459.2"/>
<polygon class="hat" points="175.2,433.1 186.3,428.4 196.6,424.8 199.7,433.3 190.3,439.5 179.3,444.2"/>
<polygon class="hat" points="179.4,444.4 187.9,436.5 198.9,431.8 204.1,438.7 197.2,448.7 186.2,453.3"/>
<polygon class="shoe" points="218.1,401.2 221.1,397.7 234.0,392.2 238.9,398.7 235.9,402.2 223.0,407.6"/>
<polyline class="t" points="228.1,399.0 232.0,397.4"/>
<polygon class="shoe" points="224.5,410.3 228.3,408.4 241.2,402.9 244.1,410.9 240.3,412.8 227.4,418.3"/>
<polyline class="t" points="234.3,410.5 238.2,408.8"/>
<polygon class="shoe" points="209.8,395.1 211.6,390.5 224.5,385.0 230.7,389.1 228.9,393.8 216.0,399.2"/>
<polyline class="t" points="219.2,390.6 223.1,389.0"/>
<polygon class="shoe" points="228.0,421.4 240.9,415.9 245.2,415.8 245.8,424.4 232.9,429.8 228.6,430.0"/>
<polyline class="t" points="237.1,423.6 241.0,422.0"/>
<polygon class="shoe" points="200.4,392.9 200.8,387.6 213.7,382.2 220.6,383.4 220.2,388.7 207.3,394.1"/>
<polyline class="t" points="208.7,386.4 212.6,384.7"/>
<polygon class="shoe" points="226.6,441.2 228.4,433.1 241.3,427.6 245.4,429.3 243.6,437.4 230.7,442.9"/>
<polyline class="t" points="236.1,436.9 240.0,435.3"/>
<polygon class="shoe" points="190.1,389.4 203.0,384.0 209.7,382.3 210.8,387.5 197.9,392.9 191.2,394.6"/>
<polyline class="t" points="197.9,386.7 201.8,385.1"/>
<polygon class="shoe" points="221.6,450.7 225.5,444.0 238.4,438.5 241.9,441.8 237.9,448.5 225.1,454.0"/>
<polyline class="t" points="231.6,448.7 235.4,447.1"/>
<polygon class="shoe2" points="183.2,400.2 180.8,395.7 186.5,391.3 188.9,395.8"/>
<polygon class="shoe" points="214.1,457.2 219.8,452.8 232.7,447.3 235.1,451.8 229.4,456.3 216.5,461.7"/>
<polyline class="t" points="223.9,457.6 227.8,455.9"/>
<polygon class="shoe2" points="177.5,409.0 174.0,405.7 177.9,399.0 181.4,402.3"/>
<polygon class="shoe2" points="211.8,458.4 212.9,463.6 206.2,465.2 205.1,460.1"/>
<polygon class="shoe2" points="174.6,419.9 170.5,418.2 172.3,410.1 176.4,411.8"/>
<polygon class="shoe2" points="202.6,460.1 202.2,465.4 195.3,464.1 195.7,458.9"/>
<polygon class="shoe2" points="175.0,431.6 170.7,431.7 170.1,423.2 174.4,423.0"/>
<polygon class="shoe2" points="193.2,457.9 191.4,462.5 185.2,458.4 187.0,453.8"/>
<polygon class="shoe2" points="178.5,442.7 174.7,444.6 171.7,436.6 175.6,434.7"/>
<polygon class="shoe2" points="184.9,451.8 181.9,455.3 177.0,448.9 180.0,445.4"/>
<polygon class="o"  points="220.9,423.8 221.2,426.3 221.2,428.9 221.0,431.4 220.6,433.9 220.0,436.3 219.2,438.6 218.2,440.7 217.0,442.7 215.7,444.5 214.2,446.1 212.5,447.6 210.7,448.7 208.9,449.7 206.9,450.3 204.9,450.8 202.9,450.9 200.8,450.8 198.7,450.4 196.7,449.8 194.7,448.9 192.9,447.7 191.0,446.4 189.4,444.8 187.8,443.0 186.4,441.0 185.2,438.9 184.1,436.6 183.2,434.2 182.6,431.7 182.1,429.2 181.8,426.7 181.8,424.1 182.0,421.6 182.4,419.1 183.0,416.7 183.8,414.4 184.8,412.3 186.0,410.3 187.3,408.5 188.8,406.9 190.5,405.4 192.3,404.3 194.1,403.3 196.1,402.7 198.1,402.2 200.1,402.1 202.2,402.2 204.3,402.6 206.3,403.2 208.3,404.1 210.1,405.3 212.0,406.6 213.6,408.2 215.2,410.0 216.6,412.0 217.8,414.1 218.9,416.4 219.8,418.8 220.4,421.3"/>
<polygon class="o"  points="214.6,424.7 214.7,426.4 214.8,428.1 214.6,429.8 214.4,431.5 214.0,433.1 213.4,434.6 212.8,436.1 212.0,437.4 211.0,438.6 210.0,439.7 208.9,440.7 207.7,441.5 206.5,442.1 205.2,442.6 203.8,442.8 202.4,442.9 201.0,442.9 199.6,442.6 198.3,442.2 197.0,441.6 195.7,440.8 194.5,439.9 193.3,438.8 192.3,437.6 191.3,436.3 190.5,434.8 189.8,433.3 189.2,431.7 188.7,430.0 188.4,428.3 188.3,426.6 188.2,424.9 188.4,423.2 188.6,421.5 189.0,419.9 189.6,418.4 190.2,416.9 191.0,415.6 192.0,414.4 193.0,413.3 194.1,412.3 195.3,411.5 196.5,410.9 197.8,410.4 199.2,410.2 200.6,410.1 202.0,410.1 203.4,410.4 204.7,410.8 206.0,411.4 207.3,412.2 208.5,413.1 209.7,414.2 210.7,415.4 211.7,416.7 212.5,418.2 213.2,419.7 213.8,421.3 214.3,423.0"/>
<polygon class="t"  points="213.5,424.8 213.7,426.4 213.7,428.0 213.6,429.5 213.4,431.1 213.0,432.6 212.5,434.0 211.9,435.3 211.1,436.6 210.3,437.7 209.4,438.7 208.3,439.6 207.2,440.3 206.1,440.9 204.9,441.3 203.6,441.6 202.3,441.6 201.1,441.6 199.8,441.3 198.5,440.9 197.3,440.4 196.1,439.7 195.0,438.8 194.0,437.8 193.0,436.7 192.1,435.5 191.4,434.2 190.7,432.8 190.2,431.3 189.7,429.8 189.5,428.2 189.3,426.6 189.3,425.0 189.4,423.5 189.6,421.9 190.0,420.4 190.5,419.0 191.1,417.7 191.9,416.4 192.7,415.3 193.6,414.3 194.7,413.4 195.8,412.7 196.9,412.1 198.1,411.7 199.4,411.4 200.7,411.4 201.9,411.4 203.2,411.7 204.5,412.1 205.7,412.6 206.9,413.3 208.0,414.2 209.0,415.2 210.0,416.3 210.9,417.5 211.6,418.8 212.3,420.2 212.8,421.7 213.3,423.2"/>
<polyline class="on" points="214.4,437.5 213.2,437.3 212.1,437.0 210.9,436.6 209.8,436.1 208.8,435.5 207.7,434.7 206.8,433.9 205.8,433.0 205.0,431.9 204.2,430.8 203.5,429.6 202.9,428.4 202.3,427.0 201.9,425.7 201.6,424.3 201.3,422.9 201.2,421.4 201.1,420.0 201.2,418.6 201.3,417.2 201.6,415.8 201.9,414.5 202.4,413.2 202.9,411.9 203.5,410.8 204.2,409.7 205.0,408.7 205.9,407.8 206.8,407.0 207.8,406.3 208.8,405.7 209.8,405.3"/>
<ellipse class="hole" cx="217.0" cy="434.7" rx="1.5" ry="1.9"/>
<ellipse class="hole" cx="204.4" cy="446.8" rx="1.5" ry="1.9"/>
<ellipse class="hole" cx="188.9" cy="438.6" rx="1.5" ry="1.9"/>
<ellipse class="hole" cx="186.0" cy="418.3" rx="1.5" ry="1.9"/>
<ellipse class="hole" cx="198.6" cy="406.2" rx="1.5" ry="1.9"/>
<ellipse class="hole" cx="214.1" cy="414.4" rx="1.5" ry="1.9"/>
<line class="l" x1="188.0" y1="426.5" x2="214.0" y2="416.6"/>
<line class="t" x1="195.0" y1="399.2" x2="207.0" y2="401.4"/>
<path class="wire" d="M239.5,401 C245,400 251,401.5 256,405 C261,408.5 264,413 266.8,417.1"/>
<path class="wire" d="M276.5,426 C281,431 286,437 289.1,441 L293,446.8"/>
<path class="wirei" d="M239.5,401 C245,400 251,401.5 256,405 C261,408.5 264,413 266.8,417.1"/>
<path class="wirei" d="M276.5,426 C281,431 286,437 289.1,441 L293,446.8"/>
<g transform="translate(271.5,422.3) rotate(48)"><rect class="o" x="-7.5" y="-5" width="15" height="10" rx="4.2"/><line class="t" x1="-2" y1="-4.6" x2="-2" y2="4.6"/><line class="t" x1="2.5" y1="-4.6" x2="2.5" y2="4.6"/><rect x="-1" y="-2.3" width="4" height="4.6" fill="#555"/></g>
<g transform="translate(298.8,453.2) rotate(52)"><rect class="o" x="-7" y="-4.2" width="6" height="8.4" rx="1"/><rect class="o" x="-1.5" y="-4.8" width="9.5" height="9.6" rx="1"/><line class="t" x1="0.5" y1="-4.4" x2="0.5" y2="4.4"/><line class="t" x1="3" y1="-4.4" x2="3" y2="4.4"/><line class="t" x1="5.5" y1="-4.4" x2="5.5" y2="4.4"/></g>
<line class="l" x1="298.0" y1="379.3" x2="444.0" y2="316.0"/>
<g transform="translate(283.5,385.5) rotate(157.6)"><path class="o" d="M-8.7,-11.8 L0,-11.8 A7.6,11.8 0 0 1 0,11.8 L-8.7,11.8 A7.6,11.8 0 0 1 -8.7,-11.8 Z"/><ellipse class="on" cx="0" cy="0" rx="7.6" ry="11.8"/></g>
<ellipse class="t" cx="283.5" cy="385.5" rx="6.3" ry="10.2" transform="rotate(-6 283.5 385.5)"/>
<ellipse class="on" cx="285.6" cy="386.4" rx="2.6" ry="6.0" transform="rotate(-12 285.6 386.4)"/>
<ellipse class="t" cx="284.2" cy="385.7" rx="4.2" ry="7.0" transform="rotate(-6 284.2 385.7)"/>
<circle cx="289.0" cy="385.6" r="0.8" fill="#333"/>
<circle cx="288.3" cy="389.9" r="0.8" fill="#333"/>
<circle cx="286.4" cy="393.0" r="0.8" fill="#333"/>
<circle cx="283.8" cy="394.2" r="0.8" fill="#333"/>
<circle cx="281.2" cy="393.0" r="0.8" fill="#333"/>
<circle cx="279.3" cy="389.9" r="0.8" fill="#333"/>
<circle cx="278.6" cy="385.6" r="0.8" fill="#333"/>
<circle cx="279.3" cy="381.3" r="0.8" fill="#333"/>
<circle cx="281.2" cy="378.2" r="0.8" fill="#333"/>
<circle cx="283.8" cy="377.0" r="0.8" fill="#333"/>
<circle cx="286.4" cy="378.2" r="0.8" fill="#333"/>
<circle cx="288.3" cy="381.3" r="0.8" fill="#333"/>
<polyline class="t" points="288.1,372.5 288.6,372.6 289.2,372.8 289.7,373.0 290.2,373.3 290.7,373.6 291.2,374.0 291.6,374.4 292.1,374.9 292.5,375.4 292.9,376.0 293.3,376.6 293.7,377.2 294.0,377.9 294.3,378.6 294.6,379.3 294.8,380.1 295.0,380.8 295.2,381.6 295.4,382.4 295.5,383.2 295.5,384.0 295.6,384.8 295.5,385.6 295.5,386.4 295.4,387.2 295.3,388.0 295.2,388.7 295.0,389.4 294.7,390.1 294.5,390.8 294.2,391.4 293.9,392.0 293.5,392.6 293.2,393.1 292.8,393.6 292.4,394.0 291.9,394.4 291.5,394.7 291.0,395.0 290.5,395.2"/>
<polyline class="ring2" points="267.1,383.6 268.2,383.8 269.3,384.3 270.3,384.9 271.3,385.7 272.2,386.7 272.9,387.8 273.5,389.1 274.0,390.4 274.3,391.8 274.5,393.2 274.5,394.6 274.4,396.0 274.1,397.3 273.6,398.6 273.0,399.7 272.3,400.7 271.4,401.6 270.5,402.2 269.5,402.7 268.4,403.0 267.3,403.1 266.2,402.9 265.1,402.6 264.0,402.1 263.0,401.3 262.1,400.5 261.3,399.4 260.6,398.2 260.0,397.0 259.6,395.6 259.4,394.2 259.3,392.8 259.3,391.4 259.5,390.0 259.9,388.7 260.4,387.5 261.1,386.4 261.9,385.5 262.8,384.7 263.8,384.1"/>
<polyline class="t" points="268.7,387.4 269.4,387.9 270.0,388.4 270.5,389.0 271.0,389.7 271.4,390.5 271.7,391.3 272.0,392.2 272.1,393.1 272.2,394.0 272.2,394.9 272.1,395.8 271.9,396.6 271.7,397.4 271.3,398.2 270.9,398.9 270.4,399.4 269.9,399.9 269.3,400.3 268.6,400.6 268.0,400.7 267.3,400.8 266.6,400.7 265.9,400.5 265.3,400.2 264.6,399.7 264.0,399.2 263.5,398.6 263.0,397.9 262.6,397.1 262.3,396.3 262.0,395.4 261.9,394.5 261.8,393.6 261.8,392.7 261.9,391.8 262.1,391.0 262.3,390.2 262.7,389.4 263.1,388.7 263.6,388.2"/>
<path class="o2" d="M264.2,383.6 C262.8,384.5 262.2,386.5 263.2,388 C264,389.2 265.6,389.2 266.2,388 L266.5,385.5"/>
<path class="o2" d="M268.8,384.6 C270.6,385.2 271.4,387.2 270.6,388.8 C269.8,390.2 268,390 267.6,388.6 L267.6,386"/>
<line class="t" x1="259.0" y1="397.1" x2="275.5" y2="391.2"/>
<g transform="translate(327.1,418.7) rotate(157.3)"><path class="ob" d="M-16.3,-1.6 L-2.5,-1.6 L-2.5,1.6 L-16.3,1.6 Q-17.1,1.6 -17.1,0 Q-17.1,-1.6 -16.3,-1.6 Z"/><path class="th" d="M-15.7,-1.1 Q-14.6,0 -15.7,1.1"/><path class="th" d="M-13.9,-1.1 Q-12.8,0 -13.9,1.1"/><path class="th" d="M-12.0,-1.1 Q-10.9,0 -12.0,1.1"/><path class="th" d="M-10.2,-1.1 Q-9.1,0 -10.2,1.1"/><path class="th" d="M-8.3,-1.1 Q-7.2,0 -8.3,1.1"/><path class="th" d="M-6.5,-1.1 Q-5.4,0 -6.5,1.1"/><path class="th" d="M-4.6,-1.1 Q-3.5,0 -4.6,1.1"/><path class="ob" d="M-2.5,-3.6 L0,-3.6 A1.8,3.6 0 0 1 0,3.6 L-2.5,3.6 A1.8,3.6 0 0 1 -2.5,-3.6 Z"/><ellipse class="t" cx="0" cy="0" rx="1.3" ry="2.6"/><ellipse class="t" cx="0.3" cy="0" rx="0.7" ry="1.6"/></g>
<line class="l" x1="331.6" y1="421.3" x2="334.2" y2="509.5"/>
<path class="o" d="M351,395.5 C352,393.5 355,393 357,394.5 L361.5,398 C363,400 362.5,402 361,403.5 L361.5,408 C362,411 359,412.5 356.5,411 L353,408.5 C351,407 350.5,405 351,403 Z"/>
<circle class="on" cx="355" cy="399" r="1.2"/>
<circle class="on" cx="358" cy="407.5" r="1.2"/>
<path class="o" d="M358.3,397 L374.5,389 L376.2,392.4 L375.5,395 L360.5,402.5"/>
<line class="th" x1="362.0" y1="397.5" x2="362.6" y2="400.5"/>
<line class="th" x1="364.3" y1="396.4" x2="364.9" y2="399.4"/>
<line class="th" x1="366.6" y1="395.3" x2="367.2" y2="398.3"/>
<line class="th" x1="368.9" y1="394.2" x2="369.5" y2="397.2"/>
<line class="th" x1="371.2" y1="393.1" x2="371.8" y2="396.1"/>
<line class="th" x1="373.5" y1="392.0" x2="374.1" y2="395.0"/>
<line class="l" x1="358.7" y1="409.5" x2="355.3" y2="509.5"/>
<line class="l" x1="360.8" y1="404.2" x2="420.0" y2="380.5"/>
<g transform="translate(392.8,432.2) rotate(157.5)"><path class="o" d="M-8.9,-4.4 L0,-4.4 A2.4,4.4 0 0 1 0,4.4 L-8.9,4.4 A2.4,4.4 0 0 1 -8.9,-4.4 Z"/><ellipse class="on" cx="0" cy="0" rx="2.4" ry="4.4"/></g>
<ellipse class="t" cx="392.8" cy="432.2" rx="1.4" ry="2.6"/>
<line class="l" x1="403.4" y1="427.9" x2="420.0" y2="419.6"/>
<line class="l" x1="399.5" y1="434.5" x2="404.7" y2="485.8"/>
<line class="l" x1="449.0" y1="424.0" x2="428.4" y2="499.0"/>
<path class="bk" d="M391.6,499 C391.6,503 393,504.5 396,504.5 L410,504.5 C413.5,504.5 415.5,505.5 416.6,508.2 C417.7,505.5 419.7,504.5 423.2,504.5 L437,504.5 C440,504.5 441.6,503 441.6,499"/>
<polyline class="l" points="512.6,393.3 477.8,462.6 490.0,457.0"/>
<polyline class="l" points="527.5,340.0 516.9,379.0 504.4,386.2"/>
<g transform="translate(492.9,456.8) rotate(-15)"><ellipse class="o" style="stroke-width:1.5" cx="0" cy="0" rx="4.1" ry="4.9"/><ellipse class="t" cx="0" cy="0" rx="1.6" ry="2.2"/></g>
<g transform="translate(505.4,450.6) rotate(-15)"><ellipse class="o" cx="0" cy="0" rx="3.5" ry="4.4"/><ellipse class="t" cx="0" cy="0" rx="1.5" ry="2.3"/></g>
<line class="l" x1="492.7" y1="459.5" x2="491.6" y2="499.0"/>
<line class="l" x1="506.0" y1="454.2" x2="513.3" y2="485.7"/>
<path class="clip" d="M517,446.5 C519,443 524,440.5 530.5,437.5 C533,436.5 534,438 532.5,439.8 C528,443 522,446.5 517.5,448.2 C515,449 513.5,448 514,446.5 C515,445 518,444.5 519,446.5"/>
<path class="clip" d="M519,441.5 L527,437 C529,436 530,436.3 530.5,437"/>
<path class="clip" d="M512.5,446 C514,444.5 516.5,445.5 517.5,447.5 L519,450.5 L519.5,458.5"/>
<circle cx="528.5" cy="435.2" r="1.1" fill="#111"/>
<circle cx="519.6" cy="459" r="1.0" fill="#111"/>
<line class="t" x1="535.5" y1="436.8" x2="531.8" y2="438.5"/>
<line class="t" x1="509.0" y1="451.0" x2="510.6" y2="450.3"/>
<line class="t" x1="496.5" y1="455.0" x2="501.7" y2="452.0"/>
<line class="l" x1="518.6" y1="459.0" x2="531.0" y2="478.6"/>
<g transform="translate(537.4,435.8) rotate(-15)"><ellipse class="o" cx="0" cy="0" rx="3.4" ry="4.3"/><ellipse class="t" cx="0" cy="0" rx="1.4" ry="2.0"/></g>
<line class="l" x1="540.0" y1="439.5" x2="553.1" y2="464.4"/>
<g transform="translate(577.3,419.8) rotate(-21.2)"><path class="ob" d="M-32.3,-2.4 L-5.5,-2.4 L-5.5,2.4 L-32.3,2.4 Q-33.1,2.4 -33.1,0 Q-33.1,-2.4 -32.3,-2.4 Z"/><path class="th" d="M-31.7,-1.9 Q-30.6,0 -31.7,1.9"/><path class="th" d="M-29.9,-1.9 Q-28.8,0 -29.9,1.9"/><path class="th" d="M-28.0,-1.9 Q-26.9,0 -28.0,1.9"/><path class="th" d="M-26.2,-1.9 Q-25.1,0 -26.2,1.9"/><path class="th" d="M-24.3,-1.9 Q-23.2,0 -24.3,1.9"/><path class="th" d="M-22.5,-1.9 Q-21.4,0 -22.5,1.9"/><path class="th" d="M-20.6,-1.9 Q-19.5,0 -20.6,1.9"/><path class="th" d="M-18.8,-1.9 Q-17.7,0 -18.8,1.9"/><path class="th" d="M-16.9,-1.9 Q-15.8,0 -16.9,1.9"/><path class="th" d="M-15.1,-1.9 Q-14.0,0 -15.1,1.9"/><path class="th" d="M-13.2,-1.9 Q-12.1,0 -13.2,1.9"/><path class="th" d="M-11.4,-1.9 Q-10.3,0 -11.4,1.9"/><path class="th" d="M-9.5,-1.9 Q-8.4,0 -9.5,1.9"/><path class="th" d="M-7.7,-1.9 Q-6.6,0 -7.7,1.9"/><path class="ob" d="M-5.5,-5.4 L0,-5.4 A2.7,5.4 0 0 1 0,5.4 L-5.5,5.4 A2.7,5.4 0 0 1 -5.5,-5.4 Z"/><ellipse class="t" cx="0" cy="0" rx="1.9" ry="3.9"/><ellipse class="t" cx="0.3" cy="0" rx="1.1" ry="2.4"/></g>
<line class="l" x1="566.6" y1="427.0" x2="579.0" y2="453.7"/>
<line class="l" x1="608.5" y1="398.6" x2="627.0" y2="437.7"/>
<line class="l" x1="627.7" y1="386.9" x2="643.0" y2="421.7"/>
<line class="l" x1="646.6" y1="377.3" x2="667.9" y2="416.4"/>
<line class="l" x1="682.1" y1="366.7" x2="696.3" y2="393.3"/>
<line class="l" x1="723.0" y1="357.8" x2="718.7" y2="384.4"/>
<polyline class="ring" points="627.5,437.6 627.9,437.5 628.4,437.5 628.9,437.6 629.4,437.8 629.9,438.0 630.4,438.3 630.8,438.7 631.2,439.2 631.5,439.7 631.8,440.3 632.1,440.9 632.2,441.5 632.3,442.1 632.3,442.8 632.3,443.4 632.2,444.0 632.0,444.6 631.8,445.2 631.5,445.6 631.1,446.1 630.8,446.4 630.3,446.7 629.9,446.9 629.4,447.0 628.9,447.1 628.4,447.0 627.9,446.9 627.4,446.6 626.9,446.3 626.5,446.0 626.1,445.5 625.7,445.0 625.4,444.5 625.2,443.9 625.0,443.3 624.9,442.6 624.9,442.0 624.9,441.3 625.0,440.7 625.1,440.1"/>
<line class="t" x1="622.5" y1="444.0" x2="626.0" y2="442.8"/>
<path class="o" d="M636.5,430 C636,425 637.5,421 640.5,420.3 C643.5,419.8 646.5,421.5 648.5,424 L649.5,428 C650.5,432 650.5,437 649,441 C647.5,444.5 644,446.3 640.8,445.6 C637.5,445 635.2,442.5 635,440 C638,441.5 641,441.5 643,439.5 C644.5,437.5 644.5,434 642.5,432 C640.5,430.5 638,430.5 636.5,430 Z"/>
<ellipse class="on" cx="641.6" cy="424.6" rx="1.3" ry="1.8"/>
<line class="t" x1="635.1" y1="438.8" x2="641.6" y2="436.7"/>
<path class="o" d="M675.5,409 C675.5,404.5 677.5,401.8 680,401.8 C682.5,401.8 684,404 684.8,407 L687.5,416 C689,420 688,425.5 684,427.8 C680.5,429.5 677,427 676.3,423 Z"/>
<ellipse class="on" cx="680.2" cy="405.6" rx="1.4" ry="1.8"/>
<path class="t" d="M679,412 C681,416 682,421 681.5,426"/>
<ellipse class="o" cx="687.6" cy="413.5" rx="2" ry="2.8"/>
<g transform="translate(656.6,429.5) rotate(157.7)"><path class="o" d="M-26.4,-6.8 L0,-6.8 A4.2,6.8 0 0 1 0,6.8 L-26.4,6.8 A4.2,6.8 0 0 1 -26.4,-6.8 Z"/><ellipse class="on" cx="0" cy="0" rx="4.2" ry="6.8"/></g>
<ellipse class="t" cx="657" cy="429.5" rx="2.2" ry="3.4"/>
<line class="t" x1="685.3" y1="403.7" x2="694.7" y2="400.1"/>
<g transform="translate(696.8,398.7) rotate(-15)"><ellipse class="o" cx="0" cy="0" rx="3.3" ry="4.3"/><ellipse class="t" cx="0" cy="0" rx="1.4" ry="2.0"/></g>
<line class="t" x1="701.1" y1="397.2" x2="706.9" y2="395.1"/>
<g transform="translate(721.2,388.6) rotate(-22.1)"><path class="ob" d="M-14.6,-2.0 L-4.5,-2.0 L-4.5,2.0 L-14.6,2.0 Q-15.4,2.0 -15.4,0 Q-15.4,-2.0 -14.6,-2.0 Z"/><path class="th" d="M-14.0,-1.5 Q-12.9,0 -14.0,1.5"/><path class="th" d="M-12.2,-1.5 Q-11.1,0 -12.2,1.5"/><path class="th" d="M-10.3,-1.5 Q-9.2,0 -10.3,1.5"/><path class="th" d="M-8.5,-1.5 Q-7.4,0 -8.5,1.5"/><path class="th" d="M-6.6,-1.5 Q-5.5,0 -6.6,1.5"/><path class="ob" d="M-4.5,-4.5 L0,-4.5 A2.2,4.5 0 0 1 0,4.5 L-4.5,4.5 A2.2,4.5 0 0 1 -4.5,-4.5 Z"/><ellipse class="t" cx="0" cy="0" rx="1.6" ry="3.2"/><ellipse class="t" cx="0.3" cy="0" rx="0.9" ry="2.0"/></g>
<path class="cab" d="M686,415.5 C698,416 708,420 716,425.5 C726,432 734,440 733.7,450 C733.5,456 731,461 726.8,464.6 C716,473 705,478 693.8,482.5 C680,488 666,492 652.6,494.9 C636,498.5 620,501.5 605.8,504.5 C595,506.5 585,508.5 575.5,511.4 C568,514 562,517 557,520"/>
<path class="cabi" d="M686,415.5 C698,416 708,420 716,425.5 C726,432 734,440 733.7,450 C733.5,456 731,461 726.8,464.6 C716,473 705,478 693.8,482.5 C680,488 666,492 652.6,494.9 C636,498.5 620,501.5 605.8,504.5 C595,506.5 585,508.5 575.5,511.4 C568,514 562,517 557,520"/>
<g transform="translate(545,526.5) rotate(-24)"><rect class="o" x="-10" y="-5" width="16" height="10" rx="1"/><rect class="o" x="6" y="-6" width="4" height="12" rx="1"/><rect class="o" x="-17" y="-5.5" width="8" height="11" rx="0.8"/><line class="t" x1="-16" y1="-2" x2="-10" y2="-2"/><line class="t" x1="-16" y1="1" x2="-10" y2="1"/><line class="t" x1="-16" y1="3.8" x2="-10" y2="3.8"/><line class="t" x1="-7" y1="-1" x2="4" y2="-1"/></g>
</svg>
</body></html>
